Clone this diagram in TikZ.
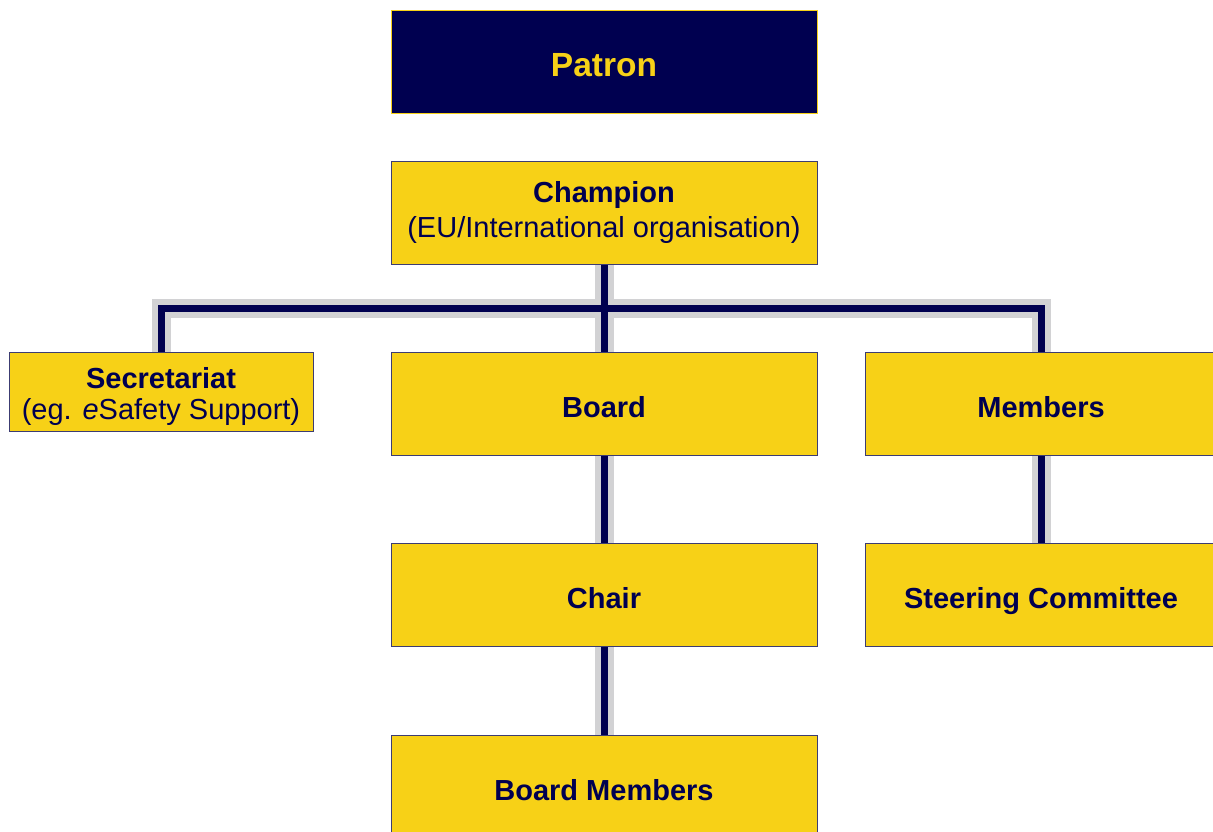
\documentclass[tikz,border=0pt]{standalone}
\usepackage{fontspec}
\setmainfont{Liberation Sans}
\usetikzlibrary{backgrounds}
\definecolor{orgyellow}{HTML}{F7D117}
\definecolor{orgnavy}{HTML}{000050}
\definecolor{orgedge}{HTML}{3C3C72}
\definecolor{linkshadow}{HTML}{D2D2D4}
\begin{document}
\begin{tikzpicture}[x=1bp,y=-1bp,
  box/.style={rectangle, fill=orgyellow, draw=orgedge, line width=0.9bp,
    minimum width=426bp, minimum height=103bp, inner sep=0pt,
    align=center, text=orgnavy,
    font=\fontsize{29bp}{35bp}\selectfont},
  % one-line boxes: fixed text height so the caps sit alike in every box
  single/.style={box, text height=27bp, text depth=0bp,
    font=\fontsize{29bp}{35bp}\selectfont\bfseries},
  topbox/.style={box, fill=orgnavy, draw=orgyellow, text=orgyellow,
    text height=29bp, text depth=0bp,
    font=\fontsize{33.5bp}{40bp}\selectfont\bfseries},
  linkback/.style={draw=linkshadow, line width=19bp, line join=miter},
  linkfront/.style={draw=orgnavy, line width=7bp, line join=miter}]
\useasboundingbox (0,0) rectangle (1213,832);

% boxes of the chart
\node[topbox] (patron) at (604,61.5) {Patron};
\node[box] (champion) at (604,212.5) {\textbf{Champion}\\(EU/International organisation)};
\node[box, minimum width=304bp, minimum height=79bp,
      font=\fontsize{29bp}{31bp}\selectfont] (secretariat) at (161,391.5)
      {\rule{0pt}{31bp}\textbf{Secretariat}\\(eg. \textit{e}Safety Support)};
\node[single] (board) at (604,403.5) {Board};
\node[single, minimum width=352bp] (members) at (1041,403.5) {Members};
\node[single] (chair) at (604,594.5) {Chair};
\node[single, minimum width=352bp] (steering) at (1041,594.5) {Steering Committee};
\node[single] (boardmembers) at (604,786.5) {Board Members};

\coordinate (bus) at (604,308.5);

% connectors: grey shadow under a navy core, kept behind the boxes
\begin{pgfonlayer}{background}
  \foreach \s in {linkback, linkfront} {
    \draw[\s] (secretariat.north) -- (secretariat.north |- bus)
              -- (members.north |- bus) -- (members.north);
    \draw[\s] (champion.south) -- (board.north);
    \draw[\s] (board.south) -- (chair.north);
    \draw[\s] (chair.south) -- (boardmembers.north);
    \draw[\s] (members.south) -- (steering.north);
  }
\end{pgfonlayer}
\end{tikzpicture}
\end{document}
